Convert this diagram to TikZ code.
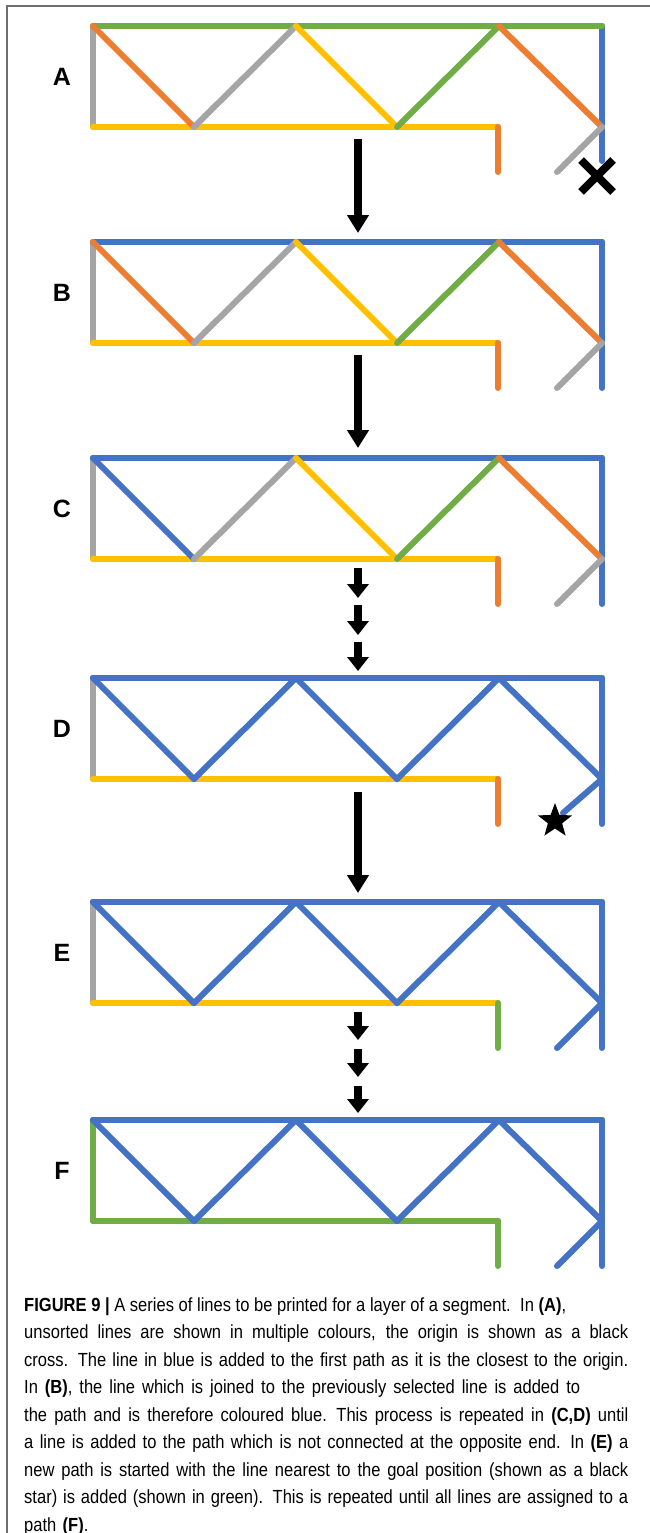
\documentclass[tikz,border=0pt]{standalone}
\usepackage{fontspec}
\setmainfont{Liberation Sans}
\newfontfamily\capfont[FakeStretch=0.87]{Liberation Sans}
\usetikzlibrary{arrows.meta,shapes.geometric,shapes.misc}
\definecolor{cor}{HTML}{ED7D31}
\definecolor{cgr}{HTML}{A5A5A5}
\definecolor{cye}{HTML}{FFC000}
\definecolor{cgn}{HTML}{70AD47}
\definecolor{cbl}{HTML}{4472C4}
\definecolor{frame}{HTML}{6E6E6E}
\tikzset{
  ln/.style={line width=6pt,line cap=round},
  lab/.style={font=\fontsize{25}{25}\selectfont\bfseries,inner sep=0pt},
  bigarrow/.style={line width=8pt,-{Triangle[length=18pt,width=21pt]}},
  smallarrow/.style={line width=8pt,-{Triangle[length=14pt,width=21pt]}},
  framelinestyle/.style={line width=1.5pt,draw=frame},
}
\newcommand\mkpanel[2]{%
  \pgfmathsetmacro\yT{#2}%
  \pgfmathsetmacro\yB{#2+101}%
  \pgfmathsetmacro\yD{#2+146}%
  \pgfmathsetmacro\yL{#2+51}%
  \coordinate (#1-tl) at (93,\yT);
  \coordinate (#1-tm) at (296,\yT);
  \coordinate (#1-tn) at (499,\yT);
  \coordinate (#1-tr) at (602,\yT);
  \coordinate (#1-bl) at (93,\yB);
  \coordinate (#1-b1) at (194,\yB);
  \coordinate (#1-b2) at (397,\yB);
  \coordinate (#1-bd) at (498,\yB);
  \coordinate (#1-br) at (602,\yB);
  \coordinate (#1-de) at (498,\yD);
  \coordinate (#1-se) at (557,\yD);
  \coordinate (#1-re) at (602,\yD);
  \node[lab] (#1-lab) at (62,\yL) {#1};
}
\newcommand\seg[4]{\draw[ln,#4] (#1-#2) -- (#1-#3);}
\newcommand\capline[1]{\hbox to 604pt{\spaceskip=0.27em plus 1fil minus 0.1em\relax #1}}
\newcommand\caplinew[2]{\hbox to #1{\spaceskip=0.27em plus 1fil minus 0.1em\relax #2}}
\newcommand\caplinen[1]{\hbox{#1}}
\begin{document}
\begin{tikzpicture}[x=1pt,y=-1pt]
\useasboundingbox (0,0) rectangle (650,1533);
% frame
\coordinate (fr-a) at (7,1533);
\coordinate (fr-b) at (7,6);
\coordinate (fr-c) at (650,6);
\draw[framelinestyle] (fr-a) -- (fr-b) -- (fr-c);

% ---------- A ----------
\mkpanel{A}{26}
\coordinate (A-rx) at (602,161);
\seg{A}{tl}{bl}{cgr}
\seg{A}{bl}{bd}{cye}
\seg{A}{bd}{de}{cor}
\seg{A}{tr}{rx}{cbl}
\seg{A}{tl}{tr}{cgn}
\seg{A}{tl}{b1}{cor}
\seg{A}{b1}{tm}{cgr}
\seg{A}{tm}{b2}{cye}
\seg{A}{b2}{tn}{cgn}
\seg{A}{tn}{br}{cor}
\seg{A}{br}{se}{cgr}
\node[cross out,draw=black,line width=8pt,minimum size=24pt,inner sep=0pt] (origin) at (597,176) {};

% ---------- B ----------
\mkpanel{B}{242}
\seg{B}{tl}{bl}{cgr}
\seg{B}{bl}{bd}{cye}
\seg{B}{bd}{de}{cor}
\seg{B}{tr}{re}{cbl}
\seg{B}{tl}{tr}{cbl}
\seg{B}{tl}{b1}{cor}
\seg{B}{b1}{tm}{cgr}
\seg{B}{tm}{b2}{cye}
\seg{B}{b2}{tn}{cgn}
\seg{B}{tn}{br}{cor}
\seg{B}{br}{se}{cgr}

% ---------- C ----------
\mkpanel{C}{458}
\seg{C}{tl}{bl}{cgr}
\seg{C}{bl}{bd}{cye}
\seg{C}{bd}{de}{cor}
\seg{C}{tr}{re}{cbl}
\seg{C}{tl}{tr}{cbl}
\seg{C}{tl}{b1}{cbl}
\seg{C}{b1}{tm}{cgr}
\seg{C}{tm}{b2}{cye}
\seg{C}{b2}{tn}{cgn}
\seg{C}{tn}{br}{cor}
\seg{C}{br}{se}{cgr}

% ---------- D ----------
\mkpanel{D}{678}
\seg{D}{tl}{bl}{cgr}
\seg{D}{bl}{bd}{cye}
\seg{D}{bd}{de}{cor}
\seg{D}{tr}{re}{cbl}
\seg{D}{tl}{tr}{cbl}
\seg{D}{tl}{b1}{cbl}
\seg{D}{b1}{tm}{cbl}
\seg{D}{tm}{b2}{cbl}
\seg{D}{b2}{tn}{cbl}
\seg{D}{tn}{br}{cbl}
\coordinate (D-sx) at (563,813);
\seg{D}{br}{sx}{cbl}
\node[star,star points=5,star point ratio=2.4,fill=black,minimum size=36pt,inner sep=0pt] (goal) at (555,821) {};

% ---------- E ----------
\mkpanel{E}{902}
\seg{E}{tl}{bl}{cgr}
\seg{E}{bl}{bd}{cye}
\seg{E}{bd}{de}{cgn}
\seg{E}{tr}{re}{cbl}
\seg{E}{tl}{tr}{cbl}
\seg{E}{tl}{b1}{cbl}
\seg{E}{b1}{tm}{cbl}
\seg{E}{tm}{b2}{cbl}
\seg{E}{b2}{tn}{cbl}
\seg{E}{tn}{br}{cbl}
\seg{E}{br}{se}{cbl}

% ---------- F ----------
\mkpanel{F}{1120}
\seg{F}{tl}{bl}{cgn}
\seg{F}{bl}{bd}{cgn}
\seg{F}{bd}{de}{cgn}
\seg{F}{tr}{re}{cbl}
\seg{F}{tl}{tr}{cbl}
\seg{F}{tl}{b1}{cbl}
\seg{F}{b1}{tm}{cbl}
\seg{F}{tm}{b2}{cbl}
\seg{F}{b2}{tn}{cbl}
\seg{F}{tn}{br}{cbl}
\seg{F}{br}{se}{cbl}

% ---------- arrows ----------
\coordinate (ab-s) at (358,139); \coordinate (ab-e) at (358,233);
\coordinate (bc-s) at (358,355); \coordinate (bc-e) at (358,448);
\coordinate (cd1-s) at (358,568); \coordinate (cd1-e) at (358,598);
\coordinate (cd2-s) at (358,605); \coordinate (cd2-e) at (358,635);
\coordinate (cd3-s) at (358,642); \coordinate (cd3-e) at (358,671);
\coordinate (de-s) at (358,792); \coordinate (de-e) at (358,893);
\coordinate (ef1-s) at (358,1012); \coordinate (ef1-e) at (358,1040);
\coordinate (ef2-s) at (358,1049); \coordinate (ef2-e) at (358,1077);
\coordinate (ef3-s) at (358,1086); \coordinate (ef3-e) at (358,1113);
\draw[bigarrow] (ab-s) -- (ab-e);
\draw[bigarrow] (bc-s) -- (bc-e);
\draw[smallarrow] (cd1-s) -- (cd1-e);
\draw[smallarrow] (cd2-s) -- (cd2-e);
\draw[smallarrow] (cd3-s) -- (cd3-e);
\draw[bigarrow] (de-s) -- (de-e);
\draw[smallarrow] (ef1-s) -- (ef1-e);
\draw[smallarrow] (ef2-s) -- (ef2-e);
\draw[smallarrow] (ef3-s) -- (ef3-e);

% ---------- caption ----------
\node[anchor=base west,inner sep=0pt,text width=604pt,align=left,
      font=\capfont\fontsize{19}{27.5}\selectfont] (caption) at (24,1311) {%
\caplinew{542pt}{\textbf{FIGURE 9 |} A series of lines to be printed for a layer of a segment. In \textbf{(A)},}
\capline{unsorted lines are shown in multiple colours, the origin is shown as a black}
\capline{cross. The line in blue is added to the first path as it is the closest to the origin.}
\caplinew{556pt}{In \textbf{(B)}, the line which is joined to the previously selected line is added to}
\capline{the path and is therefore coloured blue. This process is repeated in \textbf{(C,D)} until}
\capline{a line is added to the path which is not connected at the opposite end. In \textbf{(E)} a}
\capline{new path is started with the line nearest to the goal position (shown as a black}
\capline{star) is added (shown in green). This is repeated until all lines are assigned to a}
\caplinen{path \textbf{(F)}.}};
\end{tikzpicture}
\end{document}
